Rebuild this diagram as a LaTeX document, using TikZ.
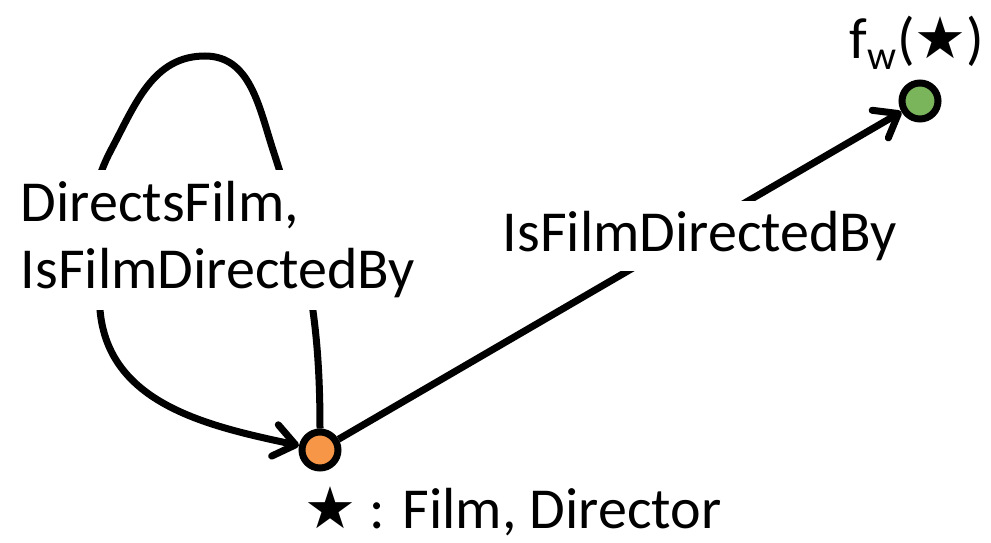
\documentclass[tikz,border=0pt]{standalone}
\usepackage{fontspec}
\setmainfont{Carlito}
\newfontfamily\symfont{DejaVu Sans}
\usetikzlibrary{arrows.meta}
\definecolor{vorange}{HTML}{F79646}
\definecolor{vgreen}{HTML}{7AB55C}
\begin{document}
\begin{tikzpicture}[x=1pt,y=-1pt,
  edge/.style={line width=7pt, -{Straight Barb[length=21pt,width=32pt,round]}},
  vert/.style={circle, draw, line width=7pt, minimum size=36pt, inner sep=0pt},
  lbl/.style={font=\fontsize{58}{67}\selectfont, inner sep=0pt},
  cover/.style={lbl, fill=white, inner xsep=6pt, inner ysep=12pt},
]
\useasboundingbox (0,0) rectangle (991,543);
\node[vert, fill=vorange] (o) at (320,450) {};
\node[vert, fill=vgreen] (g) at (920,101) {};
\coordinate (r1) at (273,150);
\coordinate (top) at (205,56);
\coordinate (l1) at (111,150);
\coordinate (l2) at (100,310);
\draw[edge] (o) to[out=90,in=-72] (r1) to[out=108,in=0] (top)
  to[out=180,in=62] (l1) to[out=-118,in=95] (l2) to[out=-85,in=168] (o);
\draw[edge] (o) -- (g);
\node[cover, align=left] (loopl) at (218,240) {DirectsFilm,\\IsFilmDirectedBy};
\node[cover, inner sep=10pt] (el) at (700,236) {IsFilmDirectedBy};
\node[lbl] (ol) at (513,511) {{\symfont ★} : Film, Director};
\node[lbl] (gl) at (917,43) {f\textsubscript{w}({\symfont ★})};
\end{tikzpicture}
\end{document}
